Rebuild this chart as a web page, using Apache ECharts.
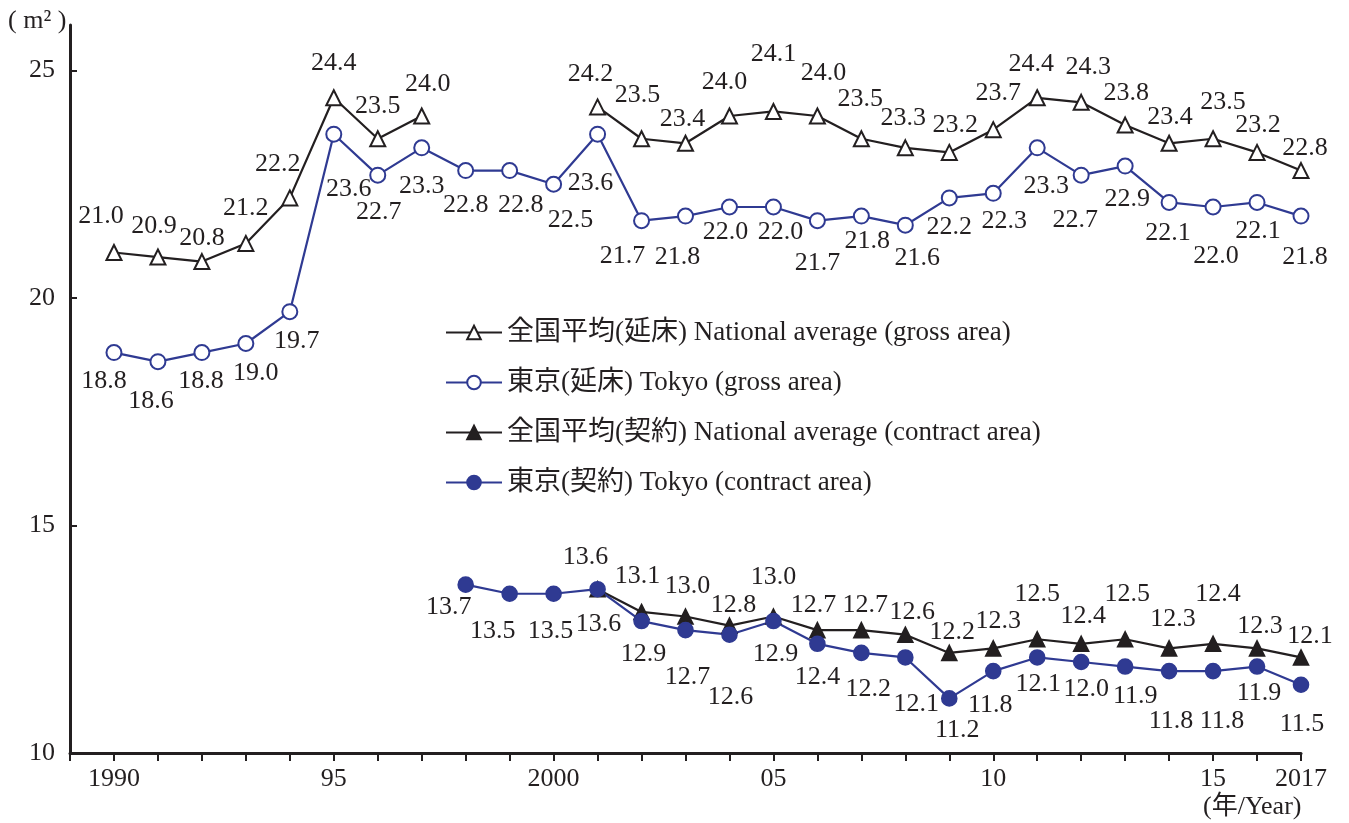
<!DOCTYPE html>
<html>
<head>
<meta charset="utf-8">
<script src="https://cdn.jsdelivr.net/npm/echarts@6/dist/echarts.min.js"></script>
<style>
  html, body { margin: 0; padding: 0; background: #fff; }
  #main { width: 1349px; height: 823px; }
</style>
</head>
<body>
<div id="main"></div>
<script>
// years on the x axis
var years = [1990, 1991, 1992, 1993, 1994, 1995, 1996, 1997, 1998, 1999,
  2000, 2001, 2002, 2003, 2004, 2005, 2006, 2007, 2008, 2009,
  2010, 2011, 2012, 2013, 2014, 2015, 2016, 2017];

// 全国平均(延床) National average (gross area)
var natGross = [21.0, 20.9, 20.8, 21.2, 22.2, 24.4, 23.5, 24.0, null, null,
  null, 24.2, 23.5, 23.4, 24.0, 24.1, 24.0, 23.5, 23.3, 23.2,
  23.7, 24.4, 24.3, 23.8, 23.4, 23.5, 23.2, 22.8];
// 東京(延床) Tokyo (gross area)
var tokyoGross = [18.8, 18.6, 18.8, 19.0, 19.7, 23.6, 22.7, 23.3, 22.8, 22.8,
  22.5, 23.6, 21.7, 21.8, 22.0, 22.0, 21.7, 21.8, 21.6, 22.2,
  22.3, 23.3, 22.7, 22.9, 22.1, 22.0, 22.1, 21.8];
// 全国平均(契約) National average (contract area)
var natContract = [null, null, null, null, null, null, null, null, null, null,
  null, 13.6, 13.1, 13.0, 12.8, 13.0, 12.7, 12.7, 12.6, 12.2,
  12.3, 12.5, 12.4, 12.5, 12.3, 12.4, 12.3, 12.1];
// 東京(契約) Tokyo (contract area)
var tokyoContract = [null, null, null, null, null, null, null, null, 13.7, 13.5,
  13.5, 13.6, 12.9, 12.7, 12.6, 12.9, 12.4, 12.2, 12.1, 11.2,
  11.8, 12.1, 12.0, 11.9, 11.8, 11.8, 11.9, 11.5];

var seriesNames = [
  '全国平均(延床) National average (gross area)',
  '東京(延床) Tokyo (gross area)',
  '全国平均(契約) National average (contract area)',
  '東京(契約) Tokyo (contract area)'
];

var xLabelValues = [1990, 1995, 2000, 2005, 2010, 2015, 2017];
var xLabelText = { 1990: '1990', 1995: '95', 2000: '2000', 2005: '05', 2010: '10', 2015: '15', 2017: '2017' };
var yTickValues = [10, 15, 20, 25];

// label placement (pixel offsets from each marker), kept apart from the values
var natGrossOff = [[-13,-36],[-4,-31],[0,-23],[0,-35],[-12,-34],[0,-35],[0,-33],[6,-32],null,null,
  null,[-7,-33],[-4,-44],[-3,-24],[-5,-34],[0,-57],[6,-43],[-1,-40],[-2,-30],[6,-27],
  [5,-36],[-6,-34],[7,-35],[1,-32],[1,-26],[10,-37],[1,-27],[4,-22]];
var tokyoGrossOff = [[-10,29],[-7,39],[-1,29],[10,30],[7,30],[15,55],[1,37],[0,38],[0,35],[11,35],
  [17,36],[-7,49],[-19,36],[-8,41],[-4,25],[7,25],[0,43],[6,25],[12,33],[0,29],
  [11,28],[9,38],[-6,45],[2,33],[-1,31],[3,49],[1,29],[4,41]];
var natContractOff = [null,null,null,null,null,null,null,null,null,null,
  null,[-12,-32],[-4,-36],[2,-30],[4,-20],[0,-39],[-4,-25],[4,-25],[7,-23],[3,-21],
  [5,-27],[0,-45],[2,-28],[2,-45],[4,-29],[5,-50],[3,-22],[9,-21]];
var tokyoContractOff = [null,null,null,null,null,null,null,null,[-17,23],[-17,37],
  [-3,37],[1,35],[2,33],[2,47],[1,62],[2,33],[0,33],[7,36],[11,47],[8,32],
  [-3,34],[1,27],[5,27],[10,30],[2,50],[9,50],[2,27],[1,39]];

var BLACK = '#231f20';
var BLUE = '#2f3a92';
var FONT = "'Liberation Serif', 'Noto Sans CJK JP', serif";

function buildData(values, offsets) {
  var res = [];
  for (var i = 0; i < years.length; i++) {
    var v = values[i];
    if (v === null) {
      res.push({ value: [years[i], null] });
    } else {
      res.push({
        value: [years[i], v],
        label: { offset: offsets[i] || [0, 0] }
      });
    }
  }
  return res;
}

function makeSeries(name, values, offsets, color, symbol) {
  return {
    name: name,
    type: 'line',
    data: buildData(values, offsets),
    symbol: symbol,
    symbolSize: 15,
    showAllSymbol: true,
    connectNulls: false,
    lineStyle: { color: color, width: 2.2 },
    itemStyle: { color: color, borderColor: color, borderWidth: 1.6 },
    label: {
      show: true,
      position: 'inside',
      align: 'center',
      verticalAlign: 'middle',
      color: BLACK,
      fontFamily: FONT,
      fontSize: 26,
      formatter: function (p) { return p.value[1].toFixed(1); }
    },
    emphasis: { disabled: true }
  };
}

var myChart = echarts.init(document.getElementById('main'));

var option = {
  animation: false,
  backgroundColor: '#fff',
  textStyle: { fontFamily: FONT },
  grid: { left: 70, right: 48, top: 25, bottom: 70 },
  legend: {
    orient: 'vertical',
    left: 440,
    top: 314,
    itemWidth: 56,
    itemHeight: 17,
    itemGap: 23,
    textStyle: { color: BLACK, fontFamily: FONT, fontSize: 27 },
    data: seriesNames
  },
  xAxis: {
    type: 'value',
    min: 1989,
    max: 2017,
    interval: 1,
    axisLine: { show: true, lineStyle: { color: BLACK, width: 3 } },
    axisTick: { show: true, length: 8, lineStyle: { color: BLACK, width: 2 } },
    axisLabel: {
      customValues: xLabelValues,
      margin: 13,
      color: BLACK,
      fontFamily: FONT,
      fontSize: 26,
      formatter: function (v) { return xLabelText[v] || ''; }
    },
    splitLine: { show: false }
  },
  yAxis: {
    type: 'value',
    min: 10,
    max: 26,
    axisLine: { show: true, lineStyle: { color: BLACK, width: 3 } },
    axisTick: { show: true, inside: true, length: 7, customValues: yTickValues, lineStyle: { color: BLACK, width: 2 } },
    axisLabel: {
      customValues: yTickValues,
      margin: 15,
      color: BLACK,
      fontFamily: FONT,
      fontSize: 26
    },
    splitLine: { show: false }
  },
  graphic: [
    {
      type: 'text',
      left: 8,
      top: 8,
      style: { text: '( m² )', fill: BLACK, font: '26px ' + FONT }
    },
    {
      type: 'text',
      left: 1203,
      top: 794,
      style: { text: '(年/Year)', fill: BLACK, font: '26px ' + FONT }
    }
  ],
  series: [
    makeSeries(seriesNames[0], natGross, natGrossOff, BLACK, 'emptyTriangle'),
    makeSeries(seriesNames[1], tokyoGross, tokyoGrossOff, BLUE, 'emptyCircle'),
    makeSeries(seriesNames[2], natContract, natContractOff, BLACK, 'triangle'),
    makeSeries(seriesNames[3], tokyoContract, tokyoContractOff, BLUE, 'circle')
  ]
};

myChart.setOption(option);
</script>
</body>
</html>
